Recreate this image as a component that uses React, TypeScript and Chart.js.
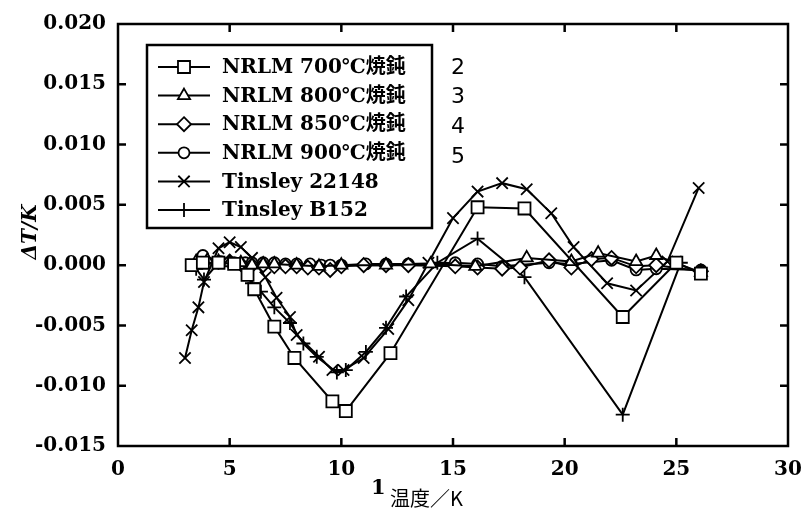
import React, { useEffect, useRef } from 'react';
import { Chart, registerables } from 'chart.js';

Chart.register(...registerables);

// ---- data ----
const seriesLabels = [
  'NRLM 700℃焼鈍',
  'NRLM 800℃焼鈍',
  'NRLM 850℃焼鈍',
  'NRLM 900℃焼鈍',
  'Tinsley 22148',
  'Tinsley B152',
];
const sideNumbers = ['2', '3', '4', '5'];

const x700 = [3.3, 3.8, 4.5, 5.2, 5.8, 6.1, 7.0, 7.9, 9.6, 10.2, 12.2, 16.1, 18.2, 22.6, 25.0, 26.1];
const y700 = [0.0, 0.0002, 0.0002, 0.0001, -0.0008, -0.002, -0.0051, -0.0077, -0.0113, -0.0121, -0.0073, 0.0048, 0.0047, -0.0043, 0.0002, -0.0007];

const x800 = [3.5, 4.0, 4.5, 5.0, 5.5, 6.0, 6.5, 7.0, 8.0, 9.0, 10.0, 12.0, 14.0, 16.0, 18.3, 20.3, 21.5, 23.2, 24.1, 26.1];
const y800 = [0.0003, 0.0004, 0.0003, 0.0002, 0.0002, 0.0, 0.0001, 0.0001, 0.0, -0.0001, 0.0, 0.0, 0.0001, -0.0001, 0.0006, 0.0003, 0.001, 0.0003, 0.0008, -0.0006];

const x850 = [5.0, 5.5, 6.0, 6.5, 7.0, 7.5, 8.0, 8.5, 9.0, 9.5, 10.0, 11.0, 12.0, 13.0, 15.1, 16.1, 17.2, 18.0, 19.3, 20.3, 21.2, 22.1, 23.2, 24.1, 26.1];
const y850 = [0.0003, 0.0001, 0.0, 0.0, -0.0001, -0.0001, -0.0001, -0.0002, -0.0002, -0.0004, -0.0001, 0.0, 0.0, 0.0, -0.0001, -0.0002, -0.0003, -0.0002, 0.0004, -0.0002, 0.0005, 0.0006, -0.0001, 0.0, -0.0005];

const x900 = [3.8, 4.6, 5.2, 5.7, 6.0, 6.5, 7.0, 7.5, 8.0, 8.6, 9.1, 9.5, 10.0, 11.1, 12.0, 13.0, 15.1, 16.1, 17.2, 19.3, 20.3, 22.1, 23.2, 24.1, 26.1];
const y900 = [0.0008, 0.0003, 0.0002, 0.0002, 0.0002, 0.0002, 0.0002, 0.0001, 0.0001, 0.0001, 0.0, 0.0, 0.0, 0.0001, 0.0001, 0.0001, 0.0002, 0.0001, -0.0001, 0.0002, 0.0001, 0.0004, -0.0004, -0.0003, -0.0004];

const xT22148 = [3.0, 3.3, 3.6, 3.85, 4.5, 5.0, 5.5, 6.0, 6.6, 7.1, 7.7, 8.0, 9.0, 9.6, 10.1, 11.0, 12.1, 13.0, 13.9, 15.0, 16.1, 17.2, 18.3, 19.4, 20.4, 21.9, 23.2, 24.6, 26.0];
const yT22148 = [-0.0077, -0.0054, -0.0035, -0.0014, 0.0014, 0.0019, 0.0015, 0.0006, -0.001, -0.0027, -0.0043, -0.0058, -0.0076, -0.0087, -0.0087, -0.0077, -0.0053, -0.0029, 0.0002, 0.0039, 0.0061, 0.0068, 0.0063, 0.0043, 0.0015, -0.0015, -0.0021, 0.0003, 0.0064];

const xB152 = [3.5, 3.85, 4.5, 5.0, 5.5, 6.0, 6.4, 7.0, 7.7, 8.3, 8.9, 9.8, 10.2, 11.1, 12.0, 12.9, 14.3, 16.1, 18.2, 22.6, 25.2];
const yB152 = [-0.0003, -0.0012, 0.0002, 0.0003, 0.0001, -0.0015, -0.0022, -0.0035, -0.0048, -0.0065, -0.0076, -0.0089, -0.0087, -0.0072, -0.0052, -0.0026, 0.0002, 0.0022, -0.001, -0.0124, 0.0002];

const xMin = 0, xMax = 30, xStep = 5;
const yMin = -0.015, yMax = 0.02, yStep = 0.005;

const xTitleNum = '1';
const xTitleText = '温度／K';
const yTitle = 'ΔT/K';

const pointStyles = ['rect', 'triangle', 'rectRot', 'circle', 'crossRot', 'cross'];
const pointRadii = [8.5, 7, 7, 5.5, 8, 7];

const zip = (xs: number[], ys: number[]) => xs.map((x, i) => ({ x, y: ys[i] }));
const seriesData = [
  zip(x700, y700),
  zip(x800, y800),
  zip(x850, y850),
  zip(x900, y900),
  zip(xT22148, yT22148),
  zip(xB152, yB152),
];

const SERIF = '"DejaVu Serif", "Liberation Serif", "Noto Sans CJK JP", serif';

function drawMarker(ctx: CanvasRenderingContext2D, style: string, x: number, y: number, r: number) {
  ctx.beginPath();
  if (style === 'rect') {
    const s = r * Math.SQRT1_2;
    ctx.rect(x - s, y - s, 2 * s, 2 * s);
    ctx.fillStyle = '#fff';
    ctx.fill();
    ctx.stroke();
  } else if (style === 'triangle') {
    ctx.moveTo(x, y - r);
    ctx.lineTo(x + r * 0.87, y + r * 0.5);
    ctx.lineTo(x - r * 0.87, y + r * 0.5);
    ctx.closePath();
    ctx.fillStyle = '#fff';
    ctx.fill();
    ctx.stroke();
  } else if (style === 'rectRot') {
    ctx.moveTo(x, y - r);
    ctx.lineTo(x + r, y);
    ctx.lineTo(x, y + r);
    ctx.lineTo(x - r, y);
    ctx.closePath();
    ctx.fillStyle = '#fff';
    ctx.fill();
    ctx.stroke();
  } else if (style === 'circle') {
    ctx.arc(x, y, r, 0, Math.PI * 2);
    ctx.fillStyle = '#fff';
    ctx.fill();
    ctx.stroke();
  } else if (style === 'crossRot') {
    const s = r * Math.SQRT1_2;
    ctx.moveTo(x - s, y - s);
    ctx.lineTo(x + s, y + s);
    ctx.moveTo(x + s, y - s);
    ctx.lineTo(x - s, y + s);
    ctx.stroke();
  } else {
    ctx.moveTo(x, y - r);
    ctx.lineTo(x, y + r);
    ctx.moveTo(x - r, y);
    ctx.lineTo(x + r, y);
    ctx.stroke();
  }
}

const decorPlugin = {
  id: 'decor',
  afterDraw(chart: any) {
    const ctx: CanvasRenderingContext2D = chart.ctx;
    const { left, right, top, bottom } = chart.chartArea;
    const xs = chart.scales.x;
    const ys = chart.scales.y;
    ctx.save();
    ctx.strokeStyle = '#000';
    ctx.fillStyle = '#000';
    // frame
    ctx.lineWidth = 2.5;
    ctx.strokeRect(left, top, right - left, bottom - top);
    // inward ticks
    const tl = 8;
    ctx.beginPath();
    for (let v = xMin + xStep; v < xMax; v += xStep) {
      const px = xs.getPixelForValue(v);
      ctx.moveTo(px, bottom);
      ctx.lineTo(px, bottom - tl);
      ctx.moveTo(px, top);
      ctx.lineTo(px, top + tl);
    }
    for (let k = 1; k < Math.round((yMax - yMin) / yStep); k++) {
      const v = yMin + k * yStep;
      const py = ys.getPixelForValue(v);
      ctx.moveTo(left, py);
      ctx.lineTo(left + tl, py);
      ctx.moveTo(right, py);
      ctx.lineTo(right - tl, py);
    }
    ctx.stroke();

    // legend box
    const bx = 147, by = 45, bw = 285, bh = 183;
    ctx.fillStyle = '#fff';
    ctx.fillRect(bx, by, bw, bh);
    ctx.lineWidth = 2.5;
    ctx.strokeRect(bx, by, bw, bh);
    const rowY0 = 67, rowGap = 28.6;
    ctx.textBaseline = 'middle';
    ctx.textAlign = 'left';
    chart.data.datasets.forEach((ds: any, i: number) => {
      const yy = rowY0 + i * rowGap;
      ctx.lineWidth = 2;
      ctx.strokeStyle = '#000';
      ctx.beginPath();
      ctx.moveTo(158, yy);
      ctx.lineTo(210, yy);
      ctx.stroke();
      ctx.lineWidth = 1.8;
      drawMarker(ctx, pointStyles[i], 184, yy, pointRadii[i]);
      ctx.fillStyle = '#000';
      ctx.font = 'bold 20px ' + SERIF;
      ctx.fillText(ds.label, 222, yy + 1);
    });
    // side numbers
    ctx.font = '22px "DejaVu Sans", sans-serif';
    ctx.textAlign = 'center';
    const numY = [68, 97, 127, 157];
    sideNumbers.forEach((n, i) => ctx.fillText(n, 458, numY[i]));

    // y title
    ctx.save();
    ctx.translate(31, 232);
    ctx.rotate(-Math.PI / 2);
    ctx.font = 'italic bold 20px ' + SERIF;
    ctx.textAlign = 'center';
    ctx.textBaseline = 'middle';
    ctx.fillText(yTitle, 0, 0);
    ctx.restore();

    // x title
    ctx.textBaseline = 'alphabetic';
    ctx.textAlign = 'left';
    ctx.font = 'bold 21px ' + SERIF;
    ctx.fillText(xTitleNum, 371, 494);
    ctx.font = '20px "Noto Sans CJK JP", sans-serif';
    ctx.fillText(xTitleText, 390, 506);
    ctx.restore();
  },
};

export default function App() {
  const ref = useRef<HTMLCanvasElement | null>(null);
  useEffect(() => {
    if (!ref.current) return;
    const chart = new Chart(ref.current, {
      type: 'scatter',
      data: {
        datasets: seriesData.map((d, i) => ({
          label: seriesLabels[i],
          data: d,
          showLine: true,
          borderColor: '#000',
          borderWidth: 2,
          pointStyle: pointStyles[i] as any,
          pointRadius: pointRadii[i],
          pointBorderColor: '#000',
          pointBorderWidth: 1.8,
          pointBackgroundColor: '#fff',
          backgroundColor: '#fff',
        })),
      },
      options: {
        animation: false,
        responsive: true,
        maintainAspectRatio: false,
        layout: { padding: { top: 24, right: 22, left: 0, bottom: 0 } },
        plugins: { legend: { display: false }, tooltip: { enabled: false } },
        scales: {
          x: {
            type: 'linear',
            min: xMin,
            max: xMax,
            grid: { display: false },
            border: { display: false },
            ticks: {
              stepSize: xStep,
              padding: 4,
              color: '#000',
              font: { family: SERIF, size: 20, weight: 'bold' },
            },
            afterFit: (s: any) => { s.height = 79; },
          },
          y: {
            type: 'linear',
            min: yMin,
            max: yMax,
            grid: { display: false },
            border: { display: false },
            ticks: {
              stepSize: yStep,
              padding: 4,
              color: '#000',
              font: { family: SERIF, size: 20, weight: 'bold' },
              callback: (v: any) => Number(v).toFixed(3),
            },
            afterFit: (s: any) => { s.width = 118; },
          },
        },
      },
      plugins: [decorPlugin],
    });
    return () => chart.destroy();
  }, []);
  return (
    <div style={{ position: 'fixed', left: 0, top: 0, width: 810, height: 525, background: '#fff' }}>
      <canvas ref={ref} />
    </div>
  );
}
